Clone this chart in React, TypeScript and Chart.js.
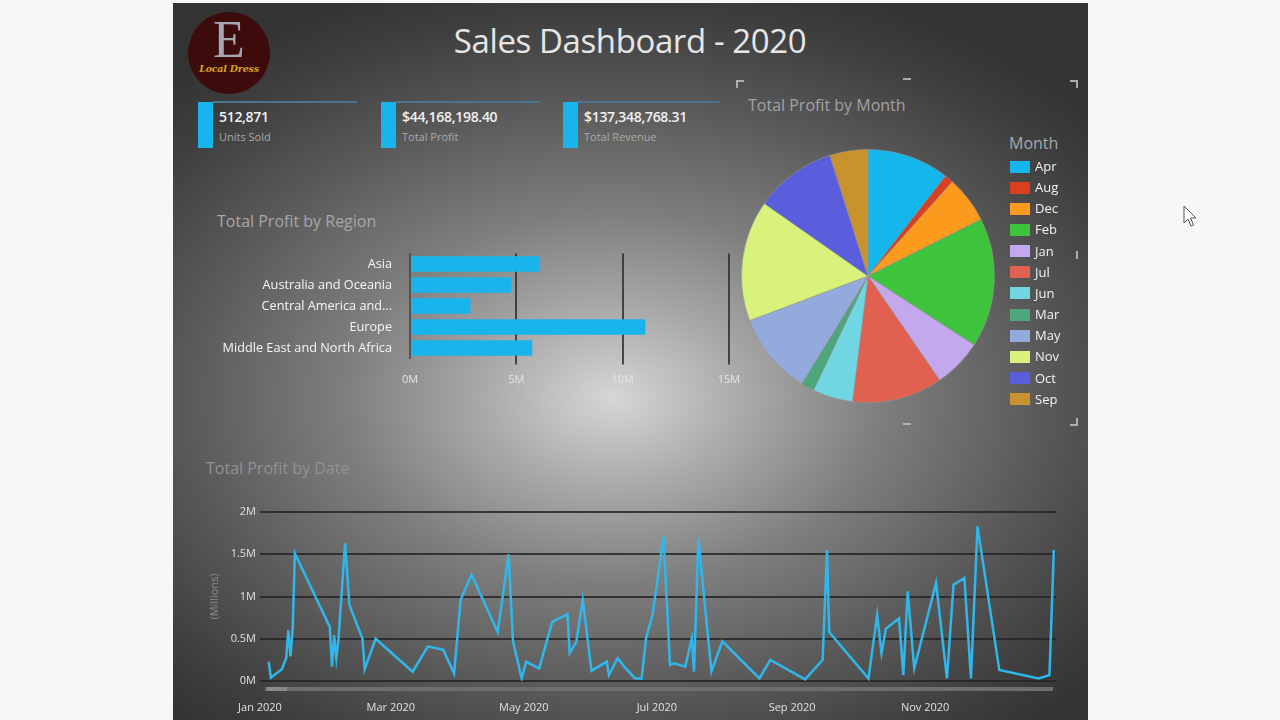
import React, { useEffect, useRef } from 'react';
import { Chart, registerables } from 'chart.js';

Chart.register(...registerables);
Chart.defaults.font.family = "'Open Sans', 'Noto Sans', sans-serif";

// ---------- data ----------
const regions = ['Asia', 'Australia and Oceania', 'Central America and the Caribbean', 'Europe', 'Middle East and North Africa'];
const regionProfit = [6.11, 4.76, 2.84, 11.07, 5.75]; // millions
const regionTicks = [0, 5, 10, 15];

const months = ['Apr', 'Aug', 'Dec', 'Feb', 'Jan', 'Jul', 'Jun', 'Mar', 'May', 'Nov', 'Oct', 'Sep'];
const monthProfit = [4.64, 0.49, 2.65, 7.31, 2.76, 5.1, 2.27, 0.74, 4.64, 6.82, 4.6, 2.15]; // millions
const monthColors = ['#14b6ec', '#d8401f', '#fb9a1c', '#3ec43c', '#c3a8ee', '#e2604f', '#70d6e2', '#4ea67c', '#93aadc', '#d9f27c', '#5a5edc', '#c8922c'];

const dates = [
  '2020-01-05', '2020-01-06', '2020-01-11', '2020-01-13', '2020-01-14', '2020-01-15', '2020-01-16', '2020-01-17',
  '2020-02-02', '2020-02-03', '2020-02-04', '2020-02-05', '2020-02-06', '2020-02-09', '2020-02-11', '2020-02-17',
  '2020-02-18', '2020-02-23', '2020-03-11', '2020-03-18', '2020-03-25', '2020-03-30', '2020-04-02', '2020-04-07',
  '2020-04-19', '2020-04-24', '2020-04-26', '2020-04-30', '2020-05-02', '2020-05-08', '2020-05-14', '2020-05-21',
  '2020-05-22', '2020-05-25', '2020-05-28', '2020-06-01', '2020-06-08', '2020-06-09', '2020-06-13', '2020-06-16',
  '2020-06-21', '2020-06-24', '2020-06-26', '2020-06-29', '2020-07-04', '2020-07-07', '2020-07-09', '2020-07-14',
  '2020-07-17', '2020-07-18', '2020-07-20', '2020-07-26', '2020-07-31', '2020-08-17', '2020-08-22', '2020-09-07',
  '2020-09-15', '2020-09-17', '2020-09-18', '2020-10-06', '2020-10-10', '2020-10-12', '2020-10-14', '2020-10-20',
  '2020-10-22', '2020-10-24', '2020-10-27', '2020-11-06', '2020-11-11', '2020-11-14', '2020-11-19', '2020-11-22',
  '2020-11-25', '2020-12-05', '2020-12-23', '2020-12-28', '2020-12-30',
];
const dailyProfit = [
  0.23, 0.04, 0.14, 0.27, 0.6, 0.29, 0.63, 1.51,
  0.64, 0.17, 0.54, 0.27, 0.5, 1.63, 0.9, 0.5,
  0.14, 0.5, 0.11, 0.41, 0.37, 0.09, 0.96, 1.26,
  0.58, 1.5, 0.47, 0.03, 0.23, 0.15, 0.7, 0.79,
  0.33, 0.46, 0.96, 0.12, 0.23, 0.07, 0.27, 0.17,
  0.03, 0.03, 0.5, 0.78, 1.71, 0.19, 0.21, 0.17,
  0.5, 0.11, 1.69, 0.11, 0.47, 0.03, 0.25, 0.02,
  0.25, 1.55, 0.58, 0.03, 0.78, 0.33, 0.62, 0.74,
  0.07, 1.06, 0.15, 1.16, 0.03, 1.14, 1.22, 0.03,
  1.83, 0.13, 0.03, 0.07, 1.55,
];
const dateTickDates = ['2020-01-01', '2020-03-01', '2020-05-01', '2020-07-01', '2020-09-01', '2020-11-01'];
const dateTickLabels = ['Jan 2020', 'Mar 2020', 'May 2020', 'Jul 2020', 'Sep 2020', 'Nov 2020'];
const profitTicks = [0, 0.5, 1, 1.5, 2];

const kpiValues = ['512,871', '$44,168,198.40', '$137,348,768.31'];
const kpiLabels = ['Units Sold', 'Total Profit', 'Total Revenue'];

// ---------- helpers ----------
const DAY = 86400000;
const dayIndex = (d: string) => (Date.parse(d + 'T00:00:00Z') - Date.parse('2020-01-01T00:00:00Z')) / DAY;

function ChartBox({ style, make }: { style: React.CSSProperties; make: () => any }) {
  const ref = useRef<HTMLCanvasElement | null>(null);
  useEffect(() => {
    const chart = new Chart(ref.current as HTMLCanvasElement, make());
    return () => chart.destroy();
  }, []);
  return (
    <div style={{ position: 'absolute', ...style }}>
      <canvas ref={ref} />
    </div>
  );
}

const makeBar = () => ({
  type: 'bar',
  data: {
    labels: regions,
    datasets: [{ data: regionProfit, backgroundColor: '#1ab4ec', barPercentage: 0.74, categoryPercentage: 1 }],
  },
  options: {
    indexAxis: 'y',
    animation: false,
    responsive: true,
    maintainAspectRatio: false,
    layout: { padding: { top: 13.5, right: 31, left: 0, bottom: 0 } },
    plugins: { legend: { display: false }, tooltip: { enabled: false } },
    scales: {
      x: {
        min: 0,
        max: 15,
        afterBuildTicks: (s: any) => { s.ticks = regionTicks.map((v) => ({ value: v })); },
        ticks: { color: '#e4e4e4', font: { size: 11 }, padding: 9, callback: (v: any) => v + 'M' },
        grid: {
          color: (c: any) => (c.tick && c.tick.value === 0 ? 'rgba(0,0,0,0)' : 'rgba(48,48,48,0.85)'),
          lineWidth: 2,
          drawTicks: true,
          tickLength: 6,
        },
        border: { display: false },
        afterFit: (s: any) => { s.height = 36.5; },
      },
      y: {
        ticks: {
          color: '#f6f6f6',
          font: { size: 12.7 },
          padding: 18,
          callback: function (this: any, v: any) {
            const s = this.getLabelForValue(v) as string;
            return s.length > 30 ? s.slice(0, 19) + '...' : s;
          },
        },
        grid: { display: false, drawTicks: false },
        border: { display: true, color: 'rgba(70,70,70,0.8)', width: 2, dash: [2, 5] },
        afterFit: (s: any) => { s.width = 205; s.paddingTop = 0; s.paddingBottom = 0; },
      },
    },
  },
});

const makePie = () => ({
  type: 'pie',
  data: {
    labels: months,
    datasets: [{ data: monthProfit, backgroundColor: monthColors, borderColor: 'rgba(150,150,150,0.55)', borderWidth: 1 }],
  },
  options: {
    animation: false,
    responsive: true,
    maintainAspectRatio: false,
    layout: { padding: 0 },
    plugins: { legend: { display: false }, tooltip: { enabled: false } },
  },
});

const makeLine = () => ({
  type: 'line',
  data: {
    datasets: [{
      data: dates.map((d, i) => ({ x: dayIndex(d), y: dailyProfit[i] })),
      borderColor: '#2fb7ec',
      borderWidth: 2.5,
      pointRadius: 0,
      tension: 0,
      fill: false,
    }],
  },
  options: {
    animation: false,
    responsive: true,
    maintainAspectRatio: false,
    layout: { padding: { top: 17, right: 14, left: 0, bottom: 0 } },
    plugins: { legend: { display: false }, tooltip: { enabled: false } },
    scales: {
      x: {
        type: 'linear',
        min: 0,
        max: 365,
        afterBuildTicks: (s: any) => { s.ticks = dateTickDates.map((d) => ({ value: dayIndex(d) })); },
        ticks: {
          autoSkip: false,
          maxRotation: 0,
          color: '#e0e0e0',
          font: { size: 11 },
          padding: 20,
          callback: (v: any) => {
            const i = dateTickDates.findIndex((d) => dayIndex(d) === v);
            return i >= 0 ? dateTickLabels[i] : '';
          },
        },
        grid: { display: false, drawTicks: false },
        border: { display: false },
        afterFit: (s: any) => { s.height = 39; },
      },
      y: {
        min: 0,
        max: 2,
        afterBuildTicks: (s: any) => { s.ticks = profitTicks.map((v) => ({ value: v })); },
        ticks: { color: '#e0e0e0', font: { size: 11 }, padding: 4, callback: (v: any) => v + 'M' },
        grid: { color: 'rgba(38,38,38,0.85)', lineWidth: 2, drawTicks: false },
        border: { display: false },
        title: { display: true, text: '(Millions)', color: '#8c8c8c', font: { size: 11 }, padding: { top: 8, bottom: 0 } },
        afterFit: (s: any) => { s.width = 60; },
      },
    },
  },
});

const abs = (l: number, t: number, extra: React.CSSProperties = {}): React.CSSProperties => ({ position: 'absolute', left: l, top: t, ...extra });

export default function App() {
  const kpiX = [198, 381, 563];
  const kpiLineEnd = [357, 540, 720];
  const font = "'Open Sans', 'Noto Sans', sans-serif";
  const bracket = 'rgba(190,190,190,0.85)';
  return (
    <div style={{ position: 'fixed', left: 0, top: 0, width: 1280, height: 720, background: '#f7f7f7', overflow: 'hidden', fontFamily: font }}>
      {/* dashboard panel */}
      <div
        style={abs(173, 3, {
          width: 915,
          height: 720,
          background: 'radial-gradient(ellipse 640px 440px at 440px 395px, #d6d6d6 0%, #aaaaaa 20%, #7e7e7e 42%, #585858 68%, #3e3e3e 88%, #333333 100%)',
          backgroundColor: '#333',
        })}
      />
      {/* logo */}
      <div style={abs(188, 12, { width: 82, height: 82, borderRadius: '50%', background: '#3e0b0c' })} />
      <div style={abs(188, 14, { width: 82, textAlign: 'center', fontFamily: "'Liberation Serif', 'DejaVu Serif', serif", fontSize: 52, lineHeight: '52px', color: '#a6a6b2' })}>E</div>
      <div style={abs(188, 63, { width: 82, textAlign: 'center', fontFamily: "'DejaVu Serif', serif", fontStyle: 'italic', fontSize: 9.5, color: '#d9a322', fontWeight: 700, letterSpacing: -0.2 })}>Local Dress</div>

      {/* title */}
      <div style={abs(330, 18, { width: 600, textAlign: 'center', fontSize: 33, lineHeight: '46px', color: '#e6e6e6', fontWeight: 400, letterSpacing: -0.4 })}>Sales Dashboard - 2020</div>

      {/* KPI cards */}
      {kpiValues.map((v, i) => (
        <React.Fragment key={i}>
          <div style={abs(kpiX[i], 102, { width: 15, height: 46, background: '#1ab4ec' })} />
          <div style={abs(kpiX[i] + 15, 101, { width: kpiLineEnd[i] - kpiX[i] - 15, height: 2, background: '#4a7591' })} />
          <div style={abs(kpiX[i] + 21, 107, { fontSize: 14, fontWeight: 600, color: '#f2f2f2', lineHeight: '20px', letterSpacing: -0.3 })}>{v}</div>
          <div style={abs(kpiX[i] + 21, 129, { fontSize: 11, color: '#a9a9a9', lineHeight: '16px' })}>{kpiLabels[i]}</div>
        </React.Fragment>
      ))}

      {/* section titles */}
      <div style={abs(217, 210, { fontSize: 16, color: '#a8a8a8', lineHeight: '22px' })}>Total Profit by Region</div>
      <div style={abs(748, 94, { fontSize: 16, color: '#a2a2a2', lineHeight: '22px' })}>Total Profit by Month</div>
      <div style={abs(206, 457, { fontSize: 16, color: '#929292', lineHeight: '22px' })}>Total Profit by Date</div>

      {/* charts */}
      <ChartBox style={{ left: 205, top: 240, width: 555, height: 155 }} make={makeBar} />
      <ChartBox style={{ left: 741, top: 148, width: 254, height: 256 }} make={makePie} />
      <ChartBox style={{ left: 200, top: 495, width: 870, height: 225 }} make={makeLine} />

      {/* pie legend */}
      <div style={abs(1009, 132, { fontSize: 16, color: '#a8a8a8', lineHeight: '22px' })}>Month</div>
      {months.map((m, i) => (
        <React.Fragment key={m}>
          <div style={abs(1010, 160.5 + i * 21.15, { width: 20, height: 12, background: monthColors[i] })} />
          <div style={abs(1035, 157 + i * 21.15, { fontSize: 13, color: '#f2f2f2', lineHeight: '18px' })}>{m}</div>
        </React.Fragment>
      ))}

      {/* visual focus brackets */}
      <div style={abs(736, 80, { width: 6, height: 6, borderLeft: `2px solid ${bracket}`, borderTop: `2px solid ${bracket}` })} />
      <div style={abs(1070, 80, { width: 6, height: 6, borderRight: `2px solid ${bracket}`, borderTop: `2px solid ${bracket}` })} />
      <div style={abs(1070, 418, { width: 6, height: 6, borderRight: `2px solid ${bracket}`, borderBottom: `2px solid ${bracket}` })} />
      <div style={abs(903, 78, { width: 8, height: 2, background: bracket })} />
      <div style={abs(903, 423, { width: 8, height: 2, background: bracket })} />
      <div style={abs(1076, 251, { width: 2, height: 8, background: bracket })} />

      {/* line chart scrollbar */}
      <div style={abs(265, 687, { width: 788, height: 4, background: '#6e6e6e' })} />
      <div style={abs(267, 687, { width: 20, height: 4, background: '#8a8a8a' })} />

      {/* mouse cursor */}
      <svg style={abs(1183, 205)} width="16" height="24" viewBox="0 0 16 24">
        <path d="M1,1 L1,18 L5,14 L8,21 L10.5,20 L7.5,13 L13,13 Z" fill="#ffffff" stroke="#555" strokeWidth="1" />
      </svg>
    </div>
  );
}
